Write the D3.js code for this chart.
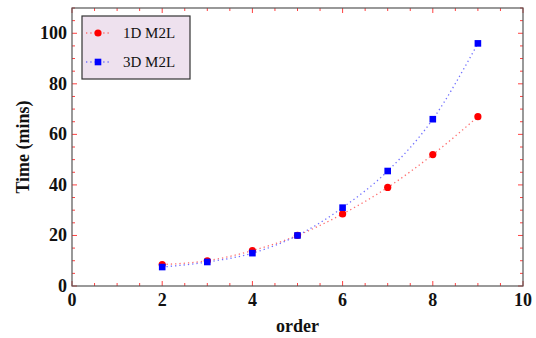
<!DOCTYPE html>
<html>
<head>
<meta charset="utf-8">
<script src="https://cdn.jsdelivr.net/npm/d3@7"></script>
<style>
  body { margin: 0; background: #fff; }
</style>
</head>
<body>
<div id="chart"></div>
<script>
// chart data
var orders = [2, 3, 4, 5, 6, 7, 8, 9];
var time1D = [8.5, 10, 14, 20, 28.5, 39, 52, 67];
var time3D = [7.5, 9.5, 13, 20, 31, 45.5, 66, 96];
var seriesNames = ["1D M2L", "3D M2L"];
var xTicks = [0, 2, 4, 6, 8, 10];
var yTicks = [0, 20, 40, 60, 80, 100];

var svgWidth = 536;
var svgHeight = 338;
var fontName = "'Liberation Serif', 'Times New Roman', Times, serif";

var margin = { top: 8, right: 13, bottom: 52, left: 72 };
var chartWidth = svgWidth - margin.left - margin.right;
var chartHeight = svgHeight - margin.top - margin.bottom;

var svg = d3.select("#chart")
  .append("svg")
  .attr("width", svgWidth)
  .attr("height", svgHeight)
  .style("font-family", fontName);

var chartGroup = svg.append("g")
  .attr("transform", `translate(${margin.left}, ${margin.top})`);

var xScale = d3.scaleLinear().domain([0, 10]).range([0, chartWidth]);
var yScale = d3.scaleLinear().domain([0, 110]).range([chartHeight, 0]);

var tickColor = "#ff4040";
var frameColor = "#555";

// inward ticks on all four sides
var xMinor = d3.range(0, 10.01, 0.5);
var yMinor = d3.range(0, 110.01, 5);

xMinor.forEach(function(v) {
  var len = (v % 2 === 0) ? 5 : 3;
  var x = xScale(v);
  chartGroup.append("line").attr("x1", x).attr("x2", x)
    .attr("y1", chartHeight).attr("y2", chartHeight - len)
    .attr("stroke", tickColor).attr("stroke-width", 1);
  chartGroup.append("line").attr("x1", x).attr("x2", x)
    .attr("y1", 0).attr("y2", len)
    .attr("stroke", tickColor).attr("stroke-width", 1);
});

yMinor.forEach(function(v) {
  var len = (v % 20 === 0) ? 5 : 3;
  var y = yScale(v);
  chartGroup.append("line").attr("y1", y).attr("y2", y)
    .attr("x1", 0).attr("x2", len)
    .attr("stroke", tickColor).attr("stroke-width", 1);
  chartGroup.append("line").attr("y1", y).attr("y2", y)
    .attr("x1", chartWidth).attr("x2", chartWidth - len)
    .attr("stroke", tickColor).attr("stroke-width", 1);
});

// frame
chartGroup.append("rect")
  .attr("width", chartWidth)
  .attr("height", chartHeight)
  .attr("fill", "none")
  .attr("stroke", frameColor)
  .attr("stroke-width", 1.2);

// tick labels
chartGroup.selectAll(".xlab")
  .data(xTicks)
  .enter()
  .append("text")
  .attr("x", d => xScale(d))
  .attr("y", chartHeight + 20)
  .attr("text-anchor", "middle")
  .attr("font-size", 18)
  .attr("font-weight", "bold")
  .attr("fill", "#111")
  .text(d => d);

chartGroup.selectAll(".ylab")
  .data(yTicks)
  .enter()
  .append("text")
  .attr("x", -5)
  .attr("y", d => yScale(d) + 6)
  .attr("text-anchor", "end")
  .attr("font-size", 18)
  .attr("font-weight", "bold")
  .attr("fill", "#111")
  .text(d => d);

// axis titles
svg.append("text")
  .attr("x", margin.left + chartWidth / 2)
  .attr("y", 332)
  .attr("text-anchor", "middle")
  .attr("font-size", 18)
  .attr("font-weight", "bold")
  .attr("fill", "#111")
  .text("order");

svg.append("text")
  .attr("transform", "translate(29, " + (margin.top + chartHeight / 2) + ") rotate(-90)")
  .attr("text-anchor", "middle")
  .attr("font-size", 18)
  .attr("font-weight", "bold")
  .attr("fill", "#111")
  .text("Time (mins)");

// lines
var line = d3.line()
  .x(d => xScale(d[0]))
  .y(d => yScale(d[1]))
  .curve(d3.curveMonotoneX);

var data1D = orders.map((o, i) => [o, time1D[i]]);
var data3D = orders.map((o, i) => [o, time3D[i]]);

chartGroup.append("path")
  .datum(data1D)
  .attr("d", line)
  .attr("fill", "none")
  .attr("stroke", "#ff7070")
  .attr("stroke-width", 1.3)
  .attr("stroke-dasharray", "1.3,3");

chartGroup.append("path")
  .datum(data3D)
  .attr("d", line)
  .attr("fill", "none")
  .attr("stroke", "#7070ff")
  .attr("stroke-width", 1.3)
  .attr("stroke-dasharray", "1.3,3");

// markers
chartGroup.selectAll(".pt1")
  .data(data1D)
  .enter()
  .append("circle")
  .attr("cx", d => xScale(d[0]))
  .attr("cy", d => yScale(d[1]))
  .attr("r", 3.6)
  .attr("fill", "#ff0000");

chartGroup.selectAll(".pt3")
  .data(data3D)
  .enter()
  .append("rect")
  .attr("x", d => xScale(d[0]) - 3.3)
  .attr("y", d => yScale(d[1]) - 3.3)
  .attr("width", 6.6)
  .attr("height", 6.6)
  .attr("fill", "#0000ff");

// legend
var legend = svg.append("g").attr("transform", "translate(82, 16)");
legend.append("rect")
  .attr("width", 108)
  .attr("height", 63)
  .attr("fill", "#eee1ee")
  .attr("stroke", "#333")
  .attr("stroke-width", 1.2);

var legendColors = [["#ff7070", "#ff0000"], ["#7070ff", "#0000ff"]];
seriesNames.forEach(function(name, i) {
  var y = 17 + i * 29;
  legend.append("line")
    .attr("x1", 4).attr("x2", 28)
    .attr("y1", y).attr("y2", y)
    .attr("stroke", legendColors[i][0])
    .attr("stroke-width", 1.3)
    .attr("stroke-dasharray", "1.3,3");
  if (i === 0) {
    legend.append("circle").attr("cx", 16).attr("cy", y).attr("r", 3.6)
      .attr("fill", legendColors[i][1]);
  } else {
    legend.append("rect").attr("x", 12.7).attr("y", y - 3.3)
      .attr("width", 6.6).attr("height", 6.6)
      .attr("fill", legendColors[i][1]);
  }
  legend.append("text")
    .attr("x", 41)
    .attr("y", y + 5)
    .attr("font-size", 15)
    .attr("fill", "#111")
    .text(name);
});
</script>
</body>
</html>
